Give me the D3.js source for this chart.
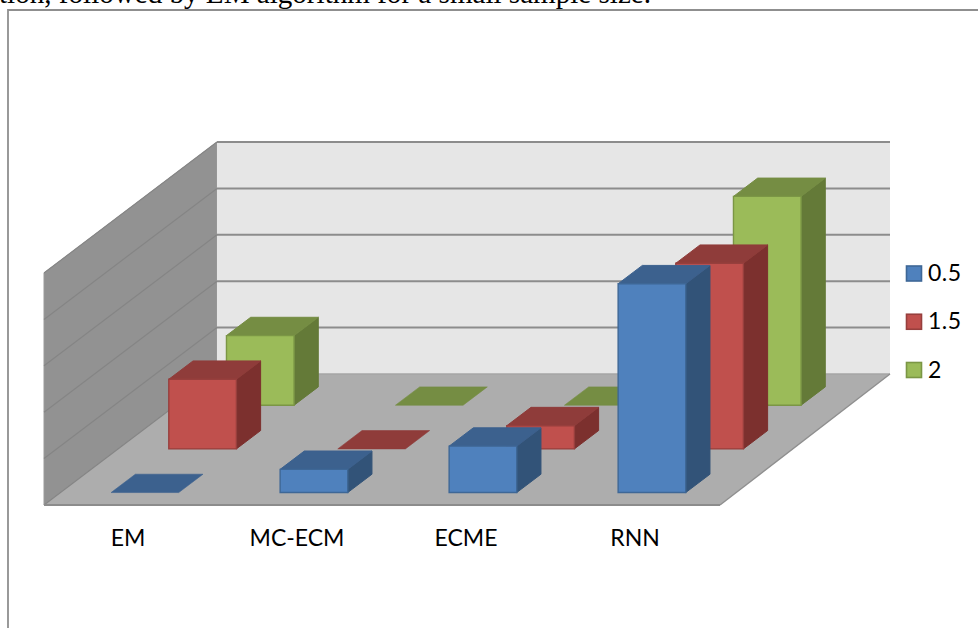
<!DOCTYPE html>
<html>
<head>
<meta charset="utf-8">
<script src="https://cdn.jsdelivr.net/npm/d3@7"></script>
<style>
  html, body { margin: 0; padding: 0; background: #fff; overflow: hidden; }
  svg { display: block; }
</style>
</head>
<body>
<svg id="chart" width="978" height="628"></svg>
<script>
const categories = ["EM", "MC-ECM", "ECME", "RNN"];
const seriesNames = ["0.5", "1.5", "2"];
const values05 = [0, 0.5, 1, 4.5];
const values15 = [1.5, 0, 0.5, 4];
const values2 = [1.5, 0, 0, 4.5];
const gridTicks = [0, 1, 2, 3, 4, 5];
const captionText = "tion, followed by EM algorithm for a small sample size.";

const seriesValues = [values05, values15, values2];
const palette = [
  { front: "#4f81bd", top: "#3c618e", side: "#325378", edge: "#3e6796" },
  { front: "#c0504d", top: "#8f3c3a", side: "#7c302e", edge: "#973f3d" },
  { front: "#9bbb59", top: "#758d43", side: "#647a38", edge: "#7b9645" }
];

const svg = d3.select("#chart");

// Oblique projection of the 3-D plot box onto the page.
const xScale = d3.scaleBand().domain(categories).range([44, 720]).paddingInner(0).paddingOuter(0);
const depthX = d3.scaleLinear().domain([0, 3]).range([0, 173]);
const depthY = d3.scaleLinear().domain([0, 3]).range([0, -131]);
const heightY = d3.scaleLinear().domain([0, 5]).range([0, -232]);
const baseY = 505;
const barShare = 0.4;    // bar width as a share of the category band
const barDepth = 0.42;   // bar depth as a share of one series row
const rearInset = 3;     // the rear edge of the box is slightly narrower than the front

function project(x, depth, value) {
  return [x + depthX(depth), baseY + depthY(depth) + heightY(value)];
}
const polygon = pts => pts.map(p => p.join(",")).join(" ");

// Back wall, side wall and floor
const x0 = xScale.range()[0], x1 = xScale.range()[1];
const x1Rear = x1 - rearInset;
svg.append("polygon").attr("fill", "#929292").attr("stroke", "#9a9a9a")
  .attr("points", polygon([project(x0, 0, 0), project(x0, 3, 0), project(x0, 3, 5), project(x0, 0, 5)]));
svg.append("polygon").attr("fill", "#e6e6e6")
  .attr("points", polygon([project(x0, 3, 0), project(x1Rear, 3, 0), project(x1Rear, 3, 5), project(x0, 3, 5)]));
svg.append("polygon").attr("fill", "#adadad")
  .attr("points", polygon([project(x0, 0, 0), project(x1, 0, 0), project(x1Rear, 3, 0), project(x0, 3, 0)]));

// Gridlines across both walls
gridTicks.forEach(t => {
  const [ax, ay] = project(x0, 0, t), [bx, by] = project(x0, 3, t), [cx, cy] = project(x1Rear, 3, t);
  svg.append("line").attr("x1", ax).attr("y1", ay).attr("x2", bx).attr("y2", by)
    .attr("stroke", "#858585").attr("stroke-width", 1.2);
  svg.append("line").attr("x1", bx).attr("y1", by).attr("x2", cx).attr("y2", cy)
    .attr("stroke", t === 0 ? "#a6a6a6" : "#8c8c8c").attr("stroke-width", t === 0 ? 1.4 : 2);
});

// Floor edges
svg.append("line").attr("x1", x0).attr("y1", baseY).attr("x2", x1).attr("y2", baseY)
  .attr("stroke", "#8c8c8c").attr("stroke-width", 2.2);
{
  const [ax, ay] = project(x1, 0, 0), [bx, by] = project(x1Rear, 3, 0);
  svg.append("line").attr("x1", ax).attr("y1", ay).attr("x2", bx).attr("y2", by)
    .attr("stroke", "#8f8f8f").attr("stroke-width", 1.4);
}

// Bars, rear row first so nearer rows overlap it
d3.range(seriesValues.length - 1, -1, -1).forEach(s => {
  const c = palette[s];
  const g = svg.append("g").attr("class", "series-" + seriesNames[s]);
  categories.forEach((cat, i) => {
    const v = seriesValues[s][i];
    const w = xScale.bandwidth() * barShare;
    const xl = xScale(cat) + (xScale.bandwidth() - w) / 2;
    const xr = xl + w;
    const dn = s + 0.285;
    const df = dn + barDepth;
    if (v > 0) {
      g.append("polygon").attr("fill", c.side).attr("stroke", c.side).attr("stroke-width", 1)
        .attr("stroke-linejoin", "round")
        .attr("points", polygon([project(xr, dn, 0), project(xr, df, 0), project(xr, df, v), project(xr, dn, v)]));
    }
    g.append("polygon").attr("fill", c.top).attr("stroke", c.top).attr("stroke-width", v > 0 ? 1 : 0.6)
      .attr("stroke-linejoin", "round")
      .attr("points", polygon([project(xl, dn, v), project(xr, dn, v), project(xr, df, v), project(xl, df, v)]));
    if (v > 0) {
      g.append("polygon").attr("fill", c.front).attr("stroke", c.edge).attr("stroke-width", 1.4)
        .attr("points", polygon([project(xl, dn, 0), project(xr, dn, 0), project(xr, dn, v), project(xl, dn, v)]));
    }
  });
});

// Category labels
svg.append("g").selectAll("text").data(categories).join("text")
  .attr("x", d => xScale(d) + xScale.bandwidth() / 2 - 0.5)
  .attr("y", 546)
  .attr("text-anchor", "middle")
  .attr("font-family", "Lato, 'Open Sans', sans-serif")
  .attr("font-size", 23)
  .attr("fill", "#000")
  .text(d => d);

// Legend
const legendY = d3.scalePoint().domain(seriesNames).range([273.5, 370]);
const legend = svg.append("g").selectAll("g").data(seriesNames).join("g")
  .attr("transform", d => `translate(906,${legendY(d)})`);
legend.append("rect").attr("x", 0.5).attr("y", -7.5).attr("width", 15).attr("height", 15)
  .attr("fill", (d, i) => palette[i].front)
  .attr("stroke", (d, i) => palette[i].edge).attr("stroke-width", 1.6);
legend.append("text").attr("x", 22).attr("y", 7.5)
  .attr("font-family", "Lato, 'Open Sans', sans-serif")
  .attr("font-size", 23)
  .attr("letter-spacing", 0.5)
  .attr("fill", "#000")
  .text(d => d);

// Chart frame and the line of running text cut off above it
svg.append("path").attr("fill", "none").attr("stroke", "#8f8f8f").attr("stroke-width", 1.8)
  .attr("d", "M8,628V10H978");
svg.append("text").attr("x", -1).attr("y", 3)
  .attr("font-family", "'Liberation Serif', serif").attr("font-size", 29.1).attr("fill", "#000")
  .text(captionText);
</script>
</body>
</html>
